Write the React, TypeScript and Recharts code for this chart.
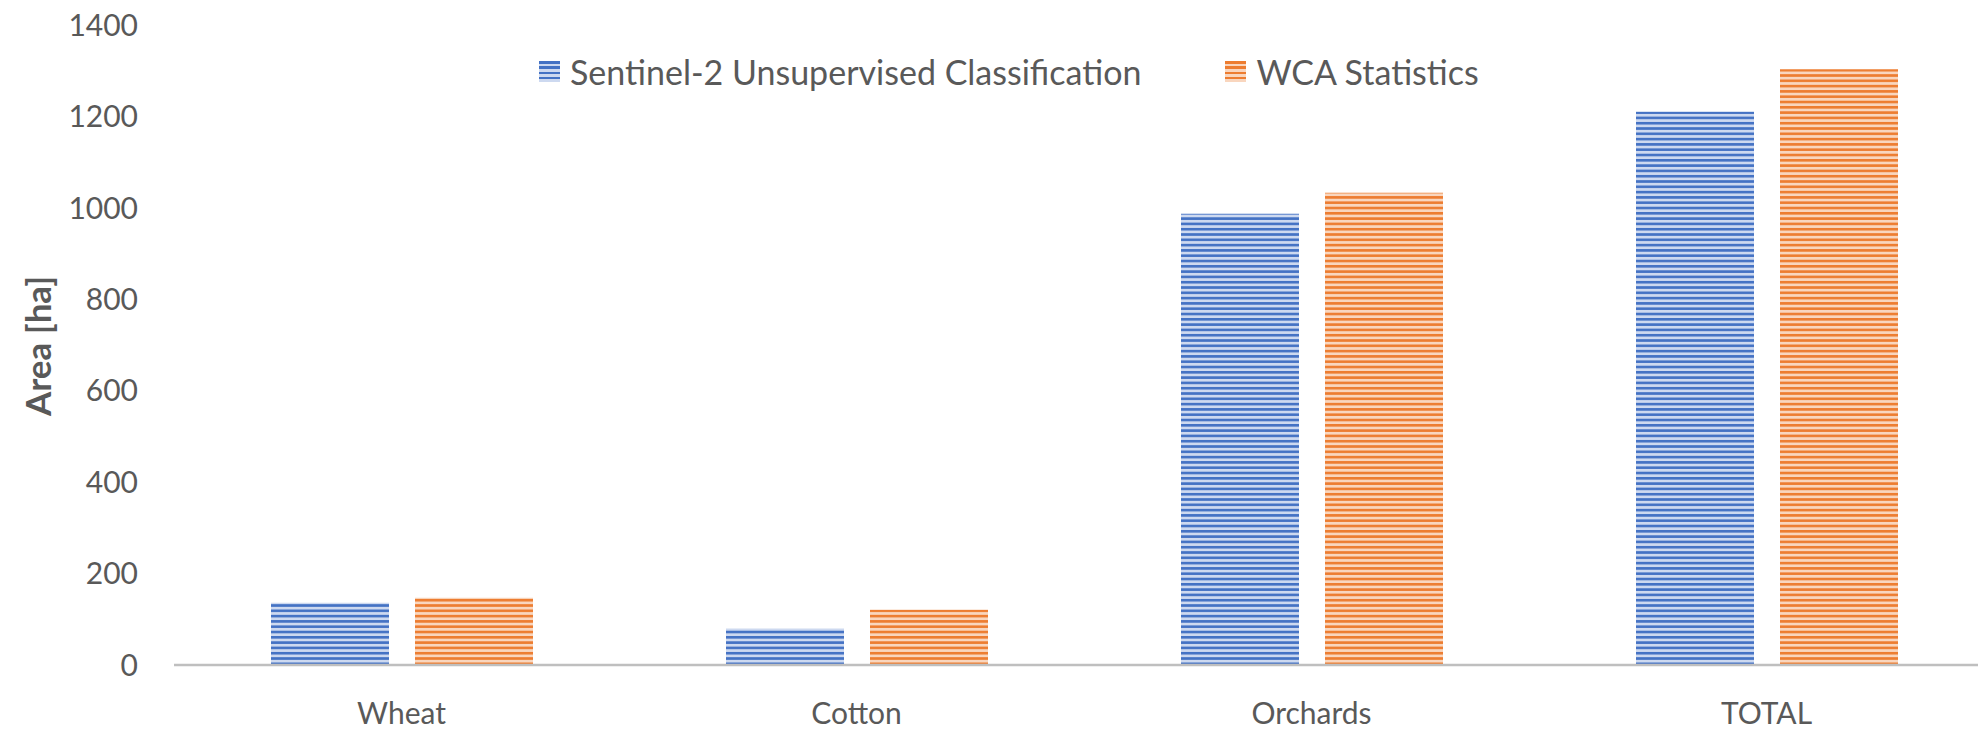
import { Bar, BarChart, Legend, XAxis, YAxis } from 'recharts'

const categories = ['Wheat', 'Cotton', 'Orchards', 'TOTAL']
const sentinelArea = [136, 80, 987, 1210]
const wcaArea = [147, 121, 1033, 1303]
const yTicks = [0, 200, 400, 600, 800, 1000, 1200, 1400]

const series = [
  { key: 'sentinel', name: 'Sentinel-2 Unsupervised Classification', dark: '#4472c4', light: '#cdd9f0' },
  { key: 'wca', name: 'WCA Statistics', dark: '#ed7d31', light: '#f9d6be' },
]

const data = categories.map((name, i) => ({
  name,
  sentinel: sentinelArea[i],
  wca: wcaArea[i],
}))

const font = 'Lato, "Noto Sans", sans-serif'
const textColor = '#595959'

function StripeLegend() {
  return (
    <div style={{ display: 'flex', alignItems: 'center', fontFamily: font, fontSize: 34, color: textColor, whiteSpace: 'nowrap' }}>
      {series.map((s, i) => (
        <div key={s.key} style={{ display: 'flex', alignItems: 'center', marginRight: i === 0 ? 84 : 0 }}>
          <span
            style={{
              display: 'inline-block',
              width: 21,
              height: 21,
              marginRight: 10,
              background: `repeating-linear-gradient(180deg, ${s.dark} 0px, ${s.dark} 2.6px, ${s.light} 2.6px, ${s.light} 5.3px)`,
            }}
          />
          <span>{s.name}</span>
        </div>
      ))}
    </div>
  )
}

export default function App() {
  return (
    <div style={{ position: 'absolute', left: 0, top: 0, width: 1978, height: 729, overflow: 'hidden', background: '#fff' }}>
      <BarChart
        width={2000}
        height={729}
        data={data}
        margin={{ top: 25, right: 6, bottom: 0, left: 0 }}
        barSize={118}
        barGap={26}
      >
        <defs>
          {series.map((s) => (
            <pattern key={s.key} id={`stripes-${s.key}`} patternUnits="userSpaceOnUse" width={20} height={5.3}>
              <rect x={0} y={0} width={20} height={5.3} fill={s.light} />
              <rect x={0} y={0} width={20} height={2.6} fill={s.dark} />
            </pattern>
          ))}
        </defs>
        <XAxis
          dataKey="name"
          height={64}
          tickLine={false}
          tickSize={0}
          tickMargin={38}
          axisLine={{ stroke: '#bfbfbf', strokeWidth: 2.5 }}
          tick={{ fill: textColor, fontSize: 30, fontFamily: font }}
        />
        <YAxis
          width={174}
          domain={[0, 1400]}
          ticks={yTicks}
          interval={0}
          axisLine={false}
          tickLine={false}
          tickSize={0}
          tickMargin={36}
          tick={{ fill: textColor, fontSize: 30, fontFamily: font }}
        />
        <Legend
          layout="horizontal"
          verticalAlign="middle"
          align="center"
          wrapperStyle={{ top: 51, left: 539, width: 'auto' }}
          content={() => <StripeLegend />}
        />
        {series.map((s) => (
          <Bar key={s.key} dataKey={s.key} name={s.name} fill={`url(#stripes-${s.key})`} isAnimationActive={false} />
        ))}
      </BarChart>
      {/* y axis title */}
      <div
        style={{
          position: 'absolute',
          left: 37,
          top: 346,
          transform: 'translate(-50%, -50%) rotate(-90deg)',
          whiteSpace: 'nowrap',
          fontFamily: font,
          fontSize: 35,
          fontWeight: 700,
          color: textColor,
          lineHeight: 1,
        }}
      >
        Area [ha]
      </div>
    </div>
  )
}
